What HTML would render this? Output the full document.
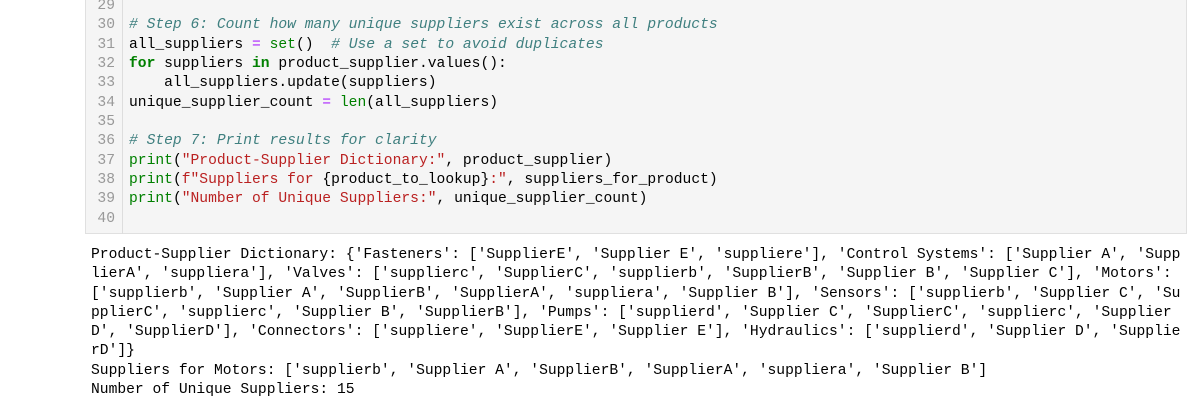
<!DOCTYPE html>
<html><head><meta charset="utf-8"><style>
html,body{margin:0;padding:0;background:#fff;width:1200px;height:407px;overflow:hidden}
body{position:relative;font-family:"Liberation Mono",monospace;font-size:14.65px}
.cell{position:absolute;left:85px;top:-10px;width:1102px;height:244px;background:#f5f5f5;border:1px solid #e0e0e0;border-top:none;box-sizing:border-box}
.gut{position:absolute;left:85px;top:-10px;width:38px;height:244px;border-right:1px solid #ddd;box-sizing:border-box}
pre{margin:0;font-family:inherit;font-size:inherit;line-height:19.35px;position:absolute;white-space:pre}
.ln{left:88px;width:27px;text-align:right;top:-3px;color:#999}
.code{left:129px;top:-3px;color:#000}
.c{color:#408080;font-style:italic}.k{color:#008000;font-weight:bold}.b{color:#008000}.s{color:#ba2121}.o{color:#aa22ff}
.out{left:91px;top:246px;color:#000;line-height:19.3px}
</style></head><body>
<div class="cell"></div><div class="gut"></div>
<pre class="ln">29
30
31
32
33
34
35
36
37
38
39
40</pre>
<pre class="code">

<span class="c"># Step 6: Count how many unique suppliers exist across all products</span>
all_suppliers <span class="o">=</span> <span class="b">set</span>()  <span class="c"># Use a set to avoid duplicates</span>
<span class="k">for</span> suppliers <span class="k">in</span> product_supplier.values():
    all_suppliers.update(suppliers)
unique_supplier_count <span class="o">=</span> <span class="b">len</span>(all_suppliers)

<span class="c"># Step 7: Print results for clarity</span>
<span class="b">print</span>(<span class="s">"Product-Supplier Dictionary:"</span>, product_supplier)
<span class="b">print</span>(<span class="s">f"Suppliers for </span>{product_to_lookup}<span class="s">:"</span>, suppliers_for_product)
<span class="b">print</span>(<span class="s">"Number of Unique Suppliers:"</span>, unique_supplier_count)
</pre>
<pre class="out">Product-Supplier Dictionary: {'Fasteners': ['SupplierE', 'Supplier E', 'suppliere'], 'Control Systems': ['Supplier A', 'Supp
lierA', 'suppliera'], 'Valves': ['supplierc', 'SupplierC', 'supplierb', 'SupplierB', 'Supplier B', 'Supplier C'], 'Motors':
['supplierb', 'Supplier A', 'SupplierB', 'SupplierA', 'suppliera', 'Supplier B'], 'Sensors': ['supplierb', 'Supplier C', 'Su
pplierC', 'supplierc', 'Supplier B', 'SupplierB'], 'Pumps': ['supplierd', 'Supplier C', 'SupplierC', 'supplierc', 'Supplier
D', 'SupplierD'], 'Connectors': ['suppliere', 'SupplierE', 'Supplier E'], 'Hydraulics': ['supplierd', 'Supplier D', 'Supplie
rD']}
Suppliers for Motors: ['supplierb', 'Supplier A', 'SupplierB', 'SupplierA', 'suppliera', 'Supplier B']
Number of Unique Suppliers: 15</pre>
</body></html>
